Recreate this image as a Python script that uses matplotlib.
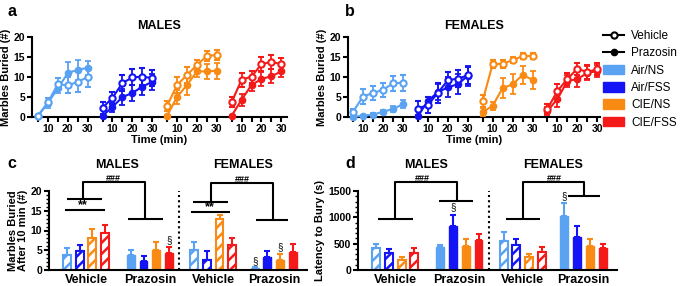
import numpy as np
import matplotlib

matplotlib.use("Agg")
import matplotlib.pyplot as plt
from matplotlib.lines import Line2D
from matplotlib.patches import Patch
from matplotlib.ticker import MultipleLocator

plt.rcParams["font.family"] = ["Liberation Sans", "DejaVu Sans"]
plt.rcParams["hatch.linewidth"] = 1.8

groups = ["Air/NS", "Air/FSS", "CIE/NS", "CIE/FSS"]
colors = ["#5aa2f2", "#1414f5", "#f98a14", "#f51a1a"]
times = [5, 10, 15, 20, 25, 30]

# a: males, marbles buried over time (rows = groups)
a_veh = [[0.3, 3.7, 8.2, 7.9, 8.8, 10.0],
         [2.3, 4.8, 8.5, 9.9, 10.1, 9.7],
         [2.8, 8.0, 10.5, 13.0, 15.3, 15.5],
         [3.7, 9.3, 10.1, 13.2, 13.8, 13.2]]
a_veh_err = [[0.3, 1.0, 1.5, 2.0, 2.5, 2.5],
             [1.5, 1.5, 2.0, 2.0, 2.2, 2.0],
             [1.2, 2.0, 2.0, 1.3, 1.2, 1.2],
             [1.2, 1.8, 1.5, 1.8, 1.8, 1.5]]
a_praz = [[0.3, 3.5, 7.2, 11.0, 11.8, 12.3],
          [0.3, 2.5, 5.0, 6.0, 7.6, 8.8],
          [0.3, 5.0, 8.0, 11.4, 11.4, 11.6],
          [0.3, 4.3, 8.0, 9.5, 10.2, 11.4]]
a_praz_err = [[0.3, 1.2, 1.2, 2.8, 2.5, 1.8],
              [0.3, 1.2, 2.0, 2.0, 2.2, 2.0],
              [0.3, 1.8, 2.5, 1.5, 1.8, 2.0],
              [0.3, 1.5, 1.5, 1.8, 1.8, 1.5]]

# b: females
b_veh = [[1.3, 5.1, 6.0, 6.8, 8.4, 8.6],
         [2.1, 3.0, 6.0, 9.2, 9.6, 10.4],
         [4.0, 13.2, 13.3, 14.2, 15.2, 15.3],
         [2.0, 6.5, 9.5, 12.1, 11.2, 12.0]]
b_veh_err = [[0.8, 1.8, 1.8, 1.8, 1.8, 2.0],
             [1.8, 2.0, 2.5, 2.0, 2.2, 2.2],
             [1.5, 1.0, 1.0, 0.8, 0.8, 0.8],
             [1.2, 1.8, 1.5, 1.5, 1.8, 1.5]]
b_praz = [[0.1, 0.3, 0.6, 1.3, 2.0, 3.2],
          [0.2, 4.0, 6.2, 7.4, 8.2, 10.3],
          [1.2, 2.8, 7.2, 8.2, 10.5, 9.3],
          [1.5, 4.5, 9.0, 9.5, 11.0, 11.5]]
b_praz_err = [[0.2, 0.3, 0.4, 0.5, 0.7, 1.0],
              [0.3, 1.0, 2.0, 2.5, 2.5, 2.5],
              [1.0, 1.0, 2.5, 2.5, 2.2, 2.2],
              [1.0, 2.0, 1.5, 2.0, 1.8, 1.5]]

# c: marbles buried after 10 min
c_male_veh = [3.7, 4.9, 8.0, 9.4]
c_male_veh_err = [1.8, 1.4, 2.5, 2.0]
c_male_praz = [3.8, 2.2, 5.0, 4.2]
c_male_praz_err = [1.3, 1.3, 2.1, 1.6]
c_fem_veh = [5.0, 2.6, 12.9, 6.3]
c_fem_veh_err = [2.2, 2.3, 1.1, 1.9]
c_fem_praz = [0.5, 3.4, 2.5, 4.6]
c_fem_praz_err = [0.3, 1.3, 1.5, 2.1]

# d: latency to bury (s)
d_male_veh = [411, 329, 190, 316]
d_male_veh_err = [83, 63, 63, 108]
d_male_praz = [430, 835, 456, 563]
d_male_praz_err = [45, 215, 133, 121]
d_fem_veh = [557, 475, 253, 348]
d_fem_veh_err = [164, 107, 57, 95]
d_fem_praz = [1025, 633, 462, 411]
d_fem_praz_err = [253, 202, 133, 89]

LW = 1.5
fig = plt.figure(figsize=(6.85, 2.86), dpi=100)
W, H = 685.0, 286.0


def box(x0, y0, x1, y1):
    return [x0 / W, 1 - y1 / H, (x1 - x0) / W, (y1 - y0) / H]


def style(ax):
    for s in ["top", "right"]:
        ax.spines[s].set_visible(False)
    for s in ["left", "bottom"]:
        ax.spines[s].set_linewidth(LW)
    ax.tick_params(width=LW, length=3.5, labelsize=7.5, pad=1.5)
    ax.tick_params(which="minor", width=1.0, length=2)
    for lab in ax.get_yticklabels() + ax.get_xticklabels():
        lab.set_fontweight("bold")


def time_panel(ax, veh, veh_err, praz, praz_err, title, xlim):
    off = 32.4
    ticks, labels = [], []
    for g in range(4):
        x = np.array(times) + g * off
        ax.errorbar(x, praz[g], yerr=praz_err[g], color=colors[g], lw=LW,
                    marker="o", ms=4.5, mfc=colors[g], mec=colors[g],
                    capsize=2, capthick=1.3, elinewidth=1.3, clip_on=False, zorder=3)
        ax.errorbar(x, veh[g], yerr=veh_err[g], color=colors[g], lw=LW,
                    marker="o", ms=4.5, mfc="white", mec=colors[g], mew=1.5,
                    capsize=2, capthick=1.3, elinewidth=1.3, clip_on=False, zorder=4)
        for t in times:
            ticks.append(t + g * off)
            labels.append(str(t) if t % 10 == 0 else "")
    ax.set_xticks(ticks)
    ax.set_xticklabels(labels)
    ax.set_xlim(*xlim)
    ax.set_ylim(0, 20)
    ax.set_yticks([0, 5, 10, 15, 20])
    ax.set_title(title, fontsize=9, fontweight="bold", pad=6)
    ax.set_xlabel("Time (min)", fontsize=8, fontweight="bold", labelpad=1)
    ax.set_ylabel("Marbles Buried (#)", fontsize=8, fontweight="bold", labelpad=2)
    style(ax)


ax_a = fig.add_axes(box(32, 37, 287, 117))
time_panel(ax_a, a_veh, a_veh_err, a_praz, a_praz_err, "MALES", (2, 130))
ax_b = fig.add_axes(box(348, 37, 600, 117))
time_panel(ax_b, b_veh, b_veh_err, b_praz, b_praz_err, "FEMALES", (2.5, 128.5))

centers = [2.9, 7.9, 12.85, 17.6]
bw = 0.62


def bars(ax, vals, errs, center, hatched):
    for i in range(4):
        x = center + (i - 1.5)
        if hatched:
            ax.bar(x, vals[i], width=bw, facecolor="white", edgecolor=colors[i],
                   hatch="///", linewidth=1.5, zorder=2)
        else:
            ax.bar(x, vals[i], width=bw, color=colors[i], edgecolor=colors[i],
                   linewidth=1.0, zorder=2)
        ax.errorbar(x, vals[i], yerr=[[0], [errs[i]]], color=colors[i],
                    capsize=2.5, capthick=1.5, elinewidth=1.5, zorder=1)


def bracket(ax, xl, xr, ytop, yl, l0, l1, yr, r0, r1):
    kw = dict(color="black", lw=LW, clip_on=False, solid_capstyle="butt")
    ax.plot([xl, xl, xr, xr], [yl, ytop, ytop, yr], **kw)
    ax.plot([l0, l1], [yl, yl], **kw)
    ax.plot([r0, r1], [yr, yr], **kw)


def bar_panel(ax, data, ymax, div_top):
    for (vals, errs), c, h in zip(data, centers, [True, False, True, False]):
        bars(ax, vals, errs, c, h)
    ax.set_xlim(0, 20.2)
    ax.set_ylim(0, ymax)
    ax.set_xticks(centers)
    ax.set_xticklabels(["Vehicle", "Prazosin", "Vehicle", "Prazosin"])
    ax.plot([10.2, 10.2], [0, div_top], color="black", lw=LW, ls=(0, (1, 1.5)))
    style(ax)
    ax.tick_params(axis="x", length=0, labelsize=9, pad=3)
    for lab in ax.get_xticklabels():
        lab.set_fontweight("bold")


ax_c = fig.add_axes(box(49, 191, 307, 270))
bar_panel(ax_c, [(c_male_veh, c_male_veh_err), (c_male_praz, c_male_praz_err),
                 (c_fem_veh, c_fem_veh_err), (c_fem_praz, c_fem_praz_err)], 20, 20)
ax_c.yaxis.set_major_locator(MultipleLocator(5))
ax_c.yaxis.set_minor_locator(MultipleLocator(1))
ax_c.set_ylabel("Marbles Buried\nAfter 10 min (#)", fontsize=8, fontweight="bold",
                labelpad=2, linespacing=1.0)
bracket(ax_c, 2.66, 7.5, 22.3, 18.0, 1.4, 4.15, 12.9, 6.15, 8.9)
ax_c.plot([1.33, 4.3], [15.2, 15.2], color="black", lw=LW)
ax_c.text(2.66, 15.0, "**", ha="center", va="bottom", fontsize=9, fontweight="bold")
ax_c.text(5.05, 22.0, "###", ha="center", va="bottom", fontsize=6.5, fontweight="bold")
bracket(ax_c, 12.66, 17.5, 22.0, 17.2, 11.3, 14.05, 12.6, 16.2, 18.75)
ax_c.plot([11.2, 14.1], [14.6, 14.6], color="black", lw=LW)
ax_c.text(12.6, 14.4, "**", ha="center", va="bottom", fontsize=9, fontweight="bold")
ax_c.text(15.1, 21.7, "###", ha="center", va="bottom", fontsize=6.5, fontweight="bold")
ax_c.text(centers[1] + 1.5, 6.2, "§", ha="center", va="bottom", fontsize=7)
ax_c.text(centers[3] - 1.5, 1.1, "§", ha="center", va="bottom", fontsize=7)
ax_c.text(centers[3] + 0.5, 4.4, "§", ha="center", va="bottom", fontsize=7)
ax_c.text(5.3, 26.6, "MALES", ha="center", va="center", fontsize=9, fontweight="bold")
ax_c.text(15.2, 26.6, "FEMALES", ha="center", va="center", fontsize=9, fontweight="bold")

ax_d = fig.add_axes(box(358, 191, 617, 270))
bar_panel(ax_d, [(d_male_veh, d_male_veh_err), (d_male_praz, d_male_praz_err),
                 (d_fem_veh, d_fem_veh_err), (d_fem_praz, d_fem_praz_err)], 1500, 1500)
ax_d.yaxis.set_major_locator(MultipleLocator(500))
ax_d.yaxis.set_minor_locator(MultipleLocator(100))
ax_d.set_ylabel("Latency to Bury (s)", fontsize=8, fontweight="bold", labelpad=2)
bracket(ax_d, 2.9, 7.73, 1665, 968, 1.56, 4.3, 1316, 6.33, 9.0)
ax_d.text(5.0, 1650, "###", ha="center", va="bottom", fontsize=6.5, fontweight="bold")
bracket(ax_d, 12.9, 17.66, 1665, 968, 11.56, 14.2, 1405, 16.35, 18.9)
ax_d.text(15.3, 1650, "###", ha="center", va="bottom", fontsize=6.5, fontweight="bold")
ax_d.text(centers[1] - 0.5, 1090, "§", ha="center", va="bottom", fontsize=7)
ax_d.text(16.05, 1405, "§", ha="center", va="center", fontsize=7)
ax_d.text(5.3, 1994, "MALES", ha="center", va="center", fontsize=9, fontweight="bold")
ax_d.text(15.2, 1994, "FEMALES", ha="center", va="center", fontsize=9, fontweight="bold")

handles = [Line2D([], [], color="black", lw=LW, marker="o", ms=4.5, mfc="white", mew=1.5),
           Line2D([], [], color="black", lw=LW, marker="o", ms=4.5)]
handles += [Patch(facecolor=c, edgecolor=c) for c in colors]
fig.legend(handles, ["Vehicle", "Prazosin"] + groups, loc="upper left",
           bbox_to_anchor=(603 / W, 1 - 30 / H), frameon=False, fontsize=8.5,
           handlelength=1.8, handleheight=0.9, labelspacing=0.45,
           handletextpad=0.6, borderpad=0, borderaxespad=0)

for lab, x, y in [("a", 7, 12), ("b", 345, 12), ("c", 7, 163), ("d", 345, 163)]:
    fig.text(x / W, 1 - y / H, lab, fontsize=11.5, fontweight="bold", va="center")

fig.savefig("out.png", dpi=100)
